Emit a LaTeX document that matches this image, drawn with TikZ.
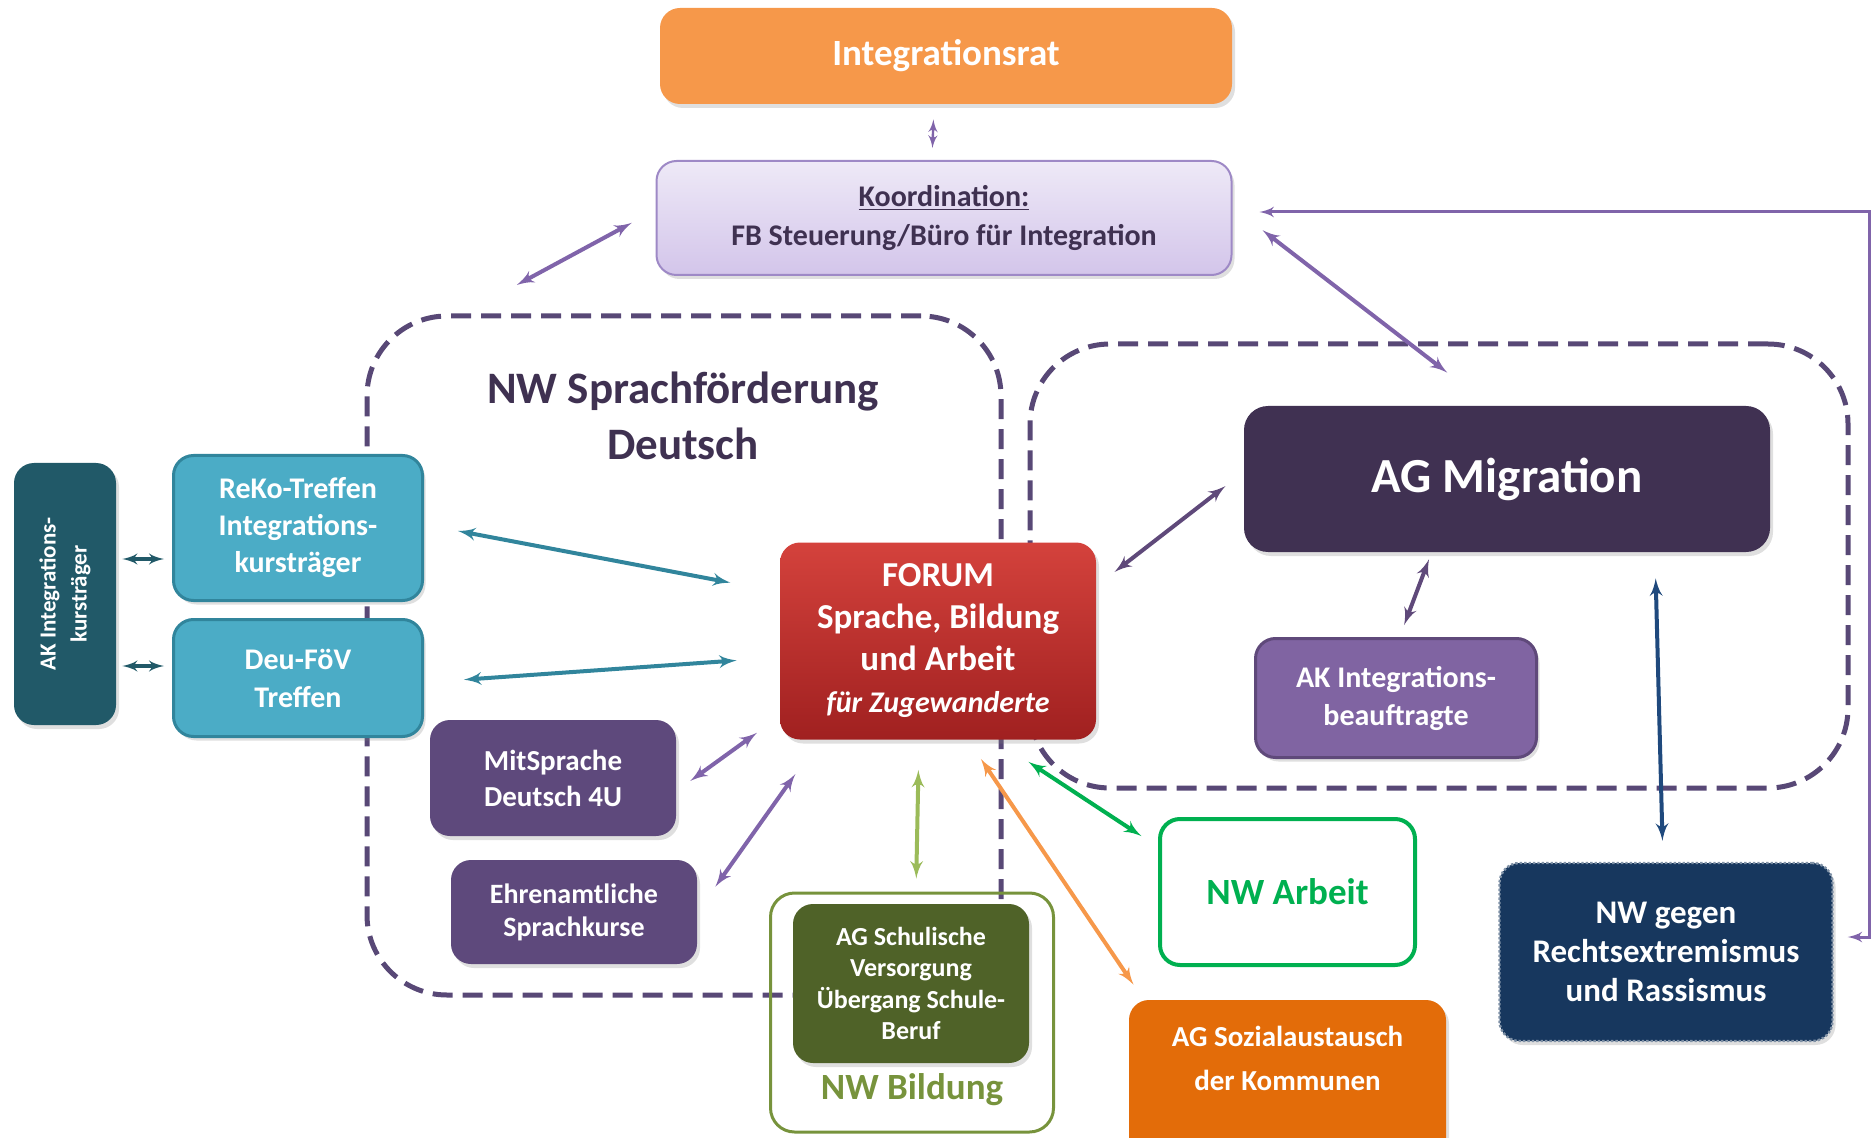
\documentclass[tikz,border=0pt]{standalone}
\usepackage{fontspec}
\setmainfont{Carlito}
\usepackage{graphicx}
\usepackage{xcolor}
\definecolor{ratorange}{RGB}{246, 152, 74}
\definecolor{koordtop}{RGB}{238, 233, 247}
\definecolor{koordbot}{RGB}{211, 197, 234}
\definecolor{koordline}{RGB}{158, 137, 198}
\definecolor{inkpurple}{RGB}{63, 49, 81}
\definecolor{dashpurple}{RGB}{88, 72, 118}
\definecolor{migrpurple}{RGB}{64, 49, 82}
\definecolor{akpurple}{RGB}{128, 100, 162}
\definecolor{akline}{RGB}{95, 73, 122}
\definecolor{mitpurple}{RGB}{94, 73, 124}
\definecolor{arrowpurple}{RGB}{128, 100, 170}
\definecolor{kurstealdark}{RGB}{33, 89, 104}
\definecolor{kursteal}{RGB}{75, 172, 198}
\definecolor{kurstealline}{RGB}{49, 133, 156}
\definecolor{forumtop}{RGB}{212, 66, 60}
\definecolor{forumbot}{RGB}{160, 32, 32}
\definecolor{olivegreen}{RGB}{79, 98, 40}
\definecolor{bildgreen}{RGB}{119, 147, 60}
\definecolor{lightgreen}{RGB}{155, 187, 89}
\definecolor{arbeitgreen}{RGB}{0, 176, 80}
\definecolor{sozorange}{RGB}{227, 108, 9}
\definecolor{navyblue}{RGB}{23, 55, 94}
\definecolor{arrownavy}{RGB}{31, 73, 125}
\usepackage{tikz}
\usetikzlibrary{arrows, positioning, shadows}
\newcommand{\boxfont}[2]{\fontsize{#1}{#2}\selectfont}

\begin{document}
\begin{tikzpicture}[x=0.5pt, y=-0.5pt,
        box/.style={rectangle, rounded corners=10pt, align=center, text=white, drop shadow={opacity=0.25, shadow xshift=1.5pt, shadow yshift=-2pt}},
        region/.style={rectangle, draw=dashpurple, line width=2.5pt, dash pattern=on 10pt off 5pt, rounded corners=40pt},
        line/.style={draw=arrowpurple, latex'-latex', line width=2pt}]

        \useasboundingbox (0,0) rectangle (1872,1138);
        \clip (0,0) rectangle (1872,1138);

        % Gestrichelte Netzwerke
        \node [region, minimum width=317pt, minimum height=339.5pt] (nwsprach) at (684,655.5) {};
        \node [region, minimum width=409pt, minimum height=222pt] (nwmigr) at (1439,566) {};
        \node [font=\boxfont{22.5}{28}\bfseries, text=inkpurple, align=center] (sprachtitel) at (683,416) {NW Sprachförderung\\Deutsch};

        % Oben: Integrationsrat und Koordination
        \node [box, fill=ratorange, minimum width=286pt, minimum height=48pt, font=\boxfont{18.5}{22}\bfseries] (rat) at (946,56) {Integrationsrat};
        \node [box, top color=koordtop, bottom color=koordbot, draw=koordline, line width=1pt, text=inkpurple, minimum width=287.5pt, minimum height=57pt, font=\boxfont{15}{19.5}\bfseries] (koord) at (944,218) {\underline{Koordination:}\\FB Steuerung/Büro für Integration};

        % Mitte: Forum
        \node [box, top color=forumtop, bottom color=forumbot, minimum width=158pt, minimum height=98.5pt, font=\boxfont{17.5}{21}\bfseries] (forum) at (938,641) {FORUM\\Sprache, Bildung\\und Arbeit\\{\boxfont{15}{19}\itshape für Zugewanderte}};

        % Links: Sprachförderung
        \node [box, fill=kurstealdark, minimum width=51pt, minimum height=131pt, font=\boxfont{11.5}{15.5}\bfseries] (akik) at (65,594) {\rotatebox{90}{\begin{tabular}{@{}c@{}}AK Integrations-\\kursträger\end{tabular}}};
        \node [box, fill=kursteal, draw=kurstealline, line width=1.5pt, minimum width=124.5pt, minimum height=72.5pt, font=\boxfont{15}{18.5}\bfseries] (reko) at (298,528) {ReKo-Treffen\\Integrations-\\kursträger};
        \node [box, fill=kursteal, draw=kurstealline, line width=1.5pt, minimum width=124.5pt, minimum height=58.5pt, font=\boxfont{15}{19}\bfseries, below=8pt of reko] (deu) {Deu-FöV\\Treffen};
        \node [box, fill=mitpurple, minimum width=123pt, minimum height=58pt, font=\boxfont{14.5}{18}\bfseries] (mit) at (553,778) {MitSprache\\Deutsch 4U};
        \node [box, fill=mitpurple, minimum width=123pt, minimum height=52pt, font=\boxfont{14}{16.5}\bfseries] (ehren) at (574,912) {Ehrenamtliche\\Sprachkurse};

        % Unten: Bildung, Arbeit, Sozialaustausch
        \node [rectangle, rounded corners=12pt, draw=bildgreen, line width=1.5pt, minimum width=141.5pt, minimum height=119.5pt] (bild) at (912,1012.5) {};
        \node [box, fill=olivegreen, minimum width=118pt, minimum height=79.5pt, font=\boxfont{13}{15.7}\bfseries] (schul) at (911,983.5) {AG Schulische\\Versorgung\\Übergang Schule-\\Beruf};
        \node [font=\boxfont{18.5}{22}\bfseries, text=bildgreen] (bildtitel) at (912,1090) {NW Bildung};
        \node [rectangle, rounded corners=10pt, draw=arbeitgreen, fill=white, line width=2pt, text=arbeitgreen, minimum width=127.5pt, minimum height=73pt, font=\boxfont{18.5}{22}\bfseries] (arbeit) at (1287.5,892) {NW Arbeit};
        \node [box, fill=sozorange, minimum width=158.5pt, minimum height=80pt, text depth=22pt, font=\boxfont{14.5}{22}\bfseries] (sozial) at (1287.5,1080) {AG Sozialaustausch\\der Kommunen};

        % Rechts: Migration
        \node [box, fill=migrpurple, rounded corners=12pt, minimum width=263pt, minimum height=73pt, font=\boxfont{24.5}{28}\bfseries] (migr) at (1507,479) {AG Migration};
        \node [box, fill=akpurple, draw=akline, line width=1.5pt, minimum width=140.5pt, minimum height=59.5pt, font=\boxfont{15}{19}\bfseries] (akib) at (1396,698) {AK Integrations-\\beauftragte};
        \node [box, fill=navyblue, draw=navyblue!55!white, densely dotted, line width=1.2pt, minimum width=166.5pt, minimum height=89pt, font=\boxfont{16.5}{19.7}\bfseries] (nwgegen) at (1666,952) {NW gegen\\Rechtsextremismus\\und Rassismus};

        % Verbindungen oben
        \path [line, line width=1.2pt, shorten <=7.5pt, shorten >=6pt] ([xshift=-6pt]rat.south) -- ([xshift=-6pt]koord.north);
        \path [line, shorten <=13.5pt, shorten >=30pt] ([yshift=4pt]koord.west) -- ([xshift=-110pt]nwsprach.north);
        \path [line, shorten <=19pt, shorten >=27pt] ([yshift=5.5pt]koord.east) -- ([xshift=-8.5pt]migr.north);
        \path [line, line width=1.5pt, shorten <=13.5pt, shorten >=7pt] ([yshift=3pt]koord.east) -- ++(637,0) |- ([yshift=7.5pt]nwgegen.east);

        % Verbindungen Migration
        \path [line, draw=akline, shorten <=11.5pt, shorten >=11.5pt] ([yshift=3.5pt]migr.west) -- ([yshift=27.5pt]forum.east);
        \path [line, draw=akline, shorten <=3.7pt, shorten >=6.4pt] ([xshift=-37.7pt]migr.south) -- ([xshift=1.8pt]akib.north);
        \path [line, draw=arrownavy, shorten <=13pt, shorten >=10.5pt] ([xshift=74pt]migr.south) -- ([xshift=-1.5pt]nwgegen.north);

        % Verbindungen Sprachförderung
        \path [line, draw=kurstealdark, line width=1.6pt, shorten <=3pt, shorten >=4pt] ([yshift=-15.5pt]reko.west -| akik.east) -- ([yshift=-15.5pt]reko.west);
        \path [line, draw=kurstealdark, line width=1.6pt, shorten <=3pt, shorten >=4pt] ([yshift=6pt]deu.west -| akik.east) -- ([yshift=6pt]deu.west);
        \path [line, draw=kurstealline, shorten <=17.3pt, shorten >=25pt] ([yshift=1.75pt]reko.east) -- ([yshift=24.5pt]forum.west);
        \path [line, draw=kurstealline, shorten <=20pt, shorten >=21.5pt] ([yshift=-2.25pt]deu.east) -- ([yshift=-8.2pt]forum.west);
        \path [line, shorten <=8.6pt, shorten >=14pt] ([yshift=-6.5pt]mit.east) -- ([yshift=-37.7pt]forum.west);
        \path [line, shorten <=15.5pt, shorten >=21pt] (ehren.east) -- ([xshift=20pt]forum.south west);

        % Verbindungen unten
        \path [line, draw=lightgreen, shorten <=15pt, shorten >=6.5pt] ([xshift=-9.5pt]forum.south) -- ([xshift=2pt]bild.north);
        \path [line, draw=ratorange, shorten <=11.5pt, shorten >=9pt] ([xshift=15pt]forum.south) -- ([xshift=7.5pt]sozial.north west);
        \path [line, draw=arbeitgreen, shorten <=20pt, shorten >=10pt] ([xshift=28.5pt]forum.south) -- ([yshift=22.5pt]arbeit.west);
    \end{tikzpicture}
\end{document}
